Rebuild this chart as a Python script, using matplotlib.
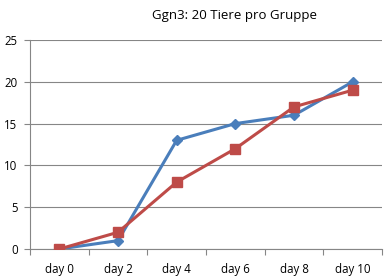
import matplotlib
matplotlib.use("Agg")
import matplotlib.pyplot as plt
import numpy as np

days = ['day 0', 'day 2', 'day 4', 'day 6', 'day 8', 'day 10']
blue_vals = [0, 1, 13, 15, 16, 20]
red_vals = [0, 2, 8, 12, 17, 19]
title = 'Ggn3: 20 Tiere pro Gruppe'

plt.rcParams['font.family'] = ['Open Sans', 'DejaVu Sans']

fig = plt.figure(figsize=(3.92, 2.77), dpi=100)
ax = fig.add_axes([30/392, 28/277, 352/392, 209/277])

x = np.arange(len(days))
ax.plot(x, blue_vals, color='#4A7EBB', lw=2.2, marker='D', ms=5.5, zorder=3)
ax.plot(x, red_vals, color='#BE4B48', lw=2.2, marker='s', ms=6.5, zorder=4)

ax.set_xlim(-0.5, len(days) - 0.5)
ax.set_ylim(0, 25)
ax.set_yticks(range(0, 26, 5))
ax.set_xticks(x)
ax.set_xticklabels(days)
ax.set_xticks(np.arange(-0.5, len(days), 1), minor=True)
ax.tick_params(axis='x', which='major', length=0, labelsize=8.3, pad=10)
ax.tick_params(axis='x', which='minor', length=4, color='#868686', width=0.8)
ax.tick_params(axis='y', length=4, color='#868686', width=0.8, labelsize=8.3, pad=5)
ax.grid(axis='y', color='#868686', lw=0.8)
ax.set_axisbelow(True)
for s in ['top', 'right']:
    ax.spines[s].set_visible(False)
for s in ['left', 'bottom']:
    ax.spines[s].set_color('#868686')
    ax.spines[s].set_linewidth(0.8)

fig.text(235/392, 1 - 16/277, title, ha='center', va='center', fontsize=9.5)

fig.savefig('out.png', dpi=100)
